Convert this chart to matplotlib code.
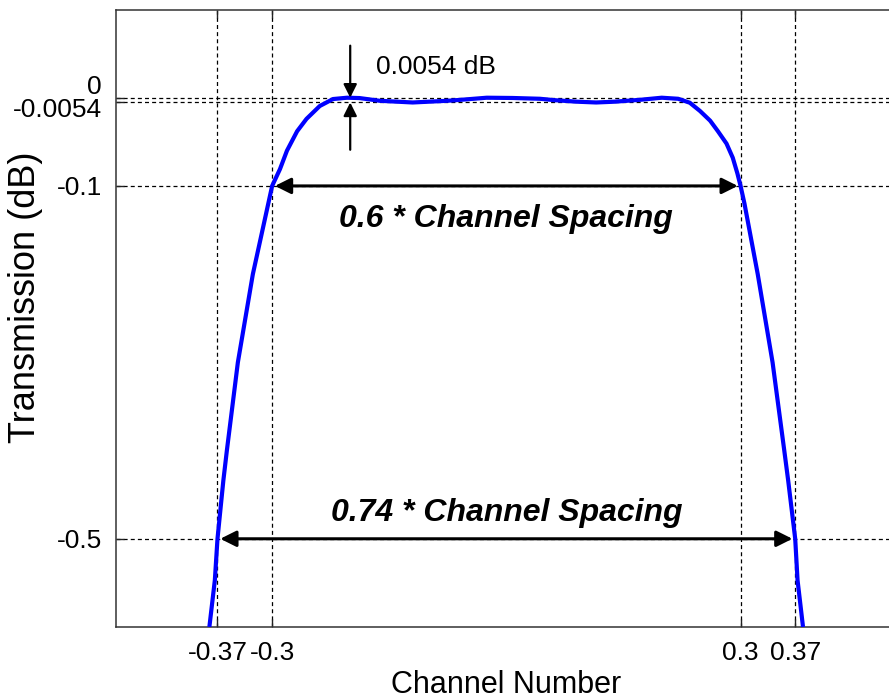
import matplotlib
matplotlib.use("Agg")
import matplotlib.pyplot as plt
from matplotlib.transforms import ScaledTranslation

plt.rcParams["font.family"] = ["Liberation Sans", "DejaVu Sans"]
plt.rcParams["axes.unicode_minus"] = False

# passband response, transmission in dB vs channel number
chan = [-0.3804, -0.3734, -0.370, -0.3625, -0.358, -0.3439, -0.3247,
        -0.300, -0.290, -0.281, -0.268, -0.256, -0.239, -0.222, -0.204,
        -0.188, -0.162, -0.120, -0.076, -0.060, -0.025, 0.008, 0.043,
        0.062, 0.090, 0.115, 0.139, 0.171, 0.199, 0.220, 0.235, 0.248,
        0.261, 0.271, 0.282, 0.290, 0.296, 0.300, 0.305, 0.322, 0.341,
        0.356, 0.361, 0.370, 0.373, 0.380]
trans_db = [-0.600, -0.547, -0.500, -0.434, -0.400, -0.300, -0.200,
            -0.100, -0.081, -0.060, -0.038, -0.024, -0.0094, -0.0015, 0.0,
            -0.0004, -0.0035, -0.0054, -0.0035, -0.0025, 0.0, -0.0003, -0.0012,
            -0.0028, -0.0045, -0.0054, -0.0045, -0.0024, 0.0, -0.0012, -0.0057, -0.015,
            -0.026, -0.038, -0.052, -0.068, -0.086, -0.100, -0.120, -0.200, -0.300,
            -0.400, -0.434, -0.500, -0.547, -0.600]

xticks = [-0.37, -0.3, 0.3, 0.37]
xticklabels = ["-0.37", "-0.3", "0.3", "0.37"]
yticks = [-0.5, -0.1, -0.0054, 0]
yticklabels = ["-0.5", "-0.1", "-0.0054", "0"]

ripple = 0.0054
bw_01db = 0.3     # half width at -0.1 dB
bw_05db = 0.37    # half width at -0.5 dB

fig = plt.figure(figsize=(8.89, 6.99), dpi=100)
ax = fig.add_axes([116 / 889, 1 - 627 / 699, 780.7 / 889, (627 - 9.5) / 699])

ax.plot(chan, trans_db, color="#0000ff", lw=3, solid_capstyle="butt", zorder=3)

ax.set_xlim(-0.5, 0.5)
ax.set_ylim(-0.6, 0.1)
ax.set_xticks(xticks)
ax.set_xticklabels(xticklabels)
ax.set_yticks(yticks)
ax.set_yticklabels(yticklabels)
ax.tick_params(direction="in", length=6, width=1, top=True, right=True,
               labelsize=19, pad=10, color="#222222")
ax.grid(True, color="black", lw=0.9, linestyle=(0, (3.2, 2.5)))
for s in ax.spines.values():
    s.set_linewidth(1.1)
    s.set_color("#333333")

# nudge the two crowded labels near 0 dB apart
ylabs = ax.get_yticklabels()
ylabs[3].set_transform(ylabs[3].get_transform() + ScaledTranslation(0, 13 / 100, fig.dpi_scale_trans))
ylabs[2].set_transform(ylabs[2].get_transform() + ScaledTranslation(0, -5.5 / 100, fig.dpi_scale_trans))

ax.set_xlabel("Channel Number", fontsize=22, va="baseline")
ax.xaxis.set_label_coords(0.5, -0.107)
ax.set_ylabel("Transmission (dB)", fontsize=26, va="center")
ax.yaxis.set_label_coords(-0.116, 0.534)

# bandwidth arrows
arr = dict(arrowstyle="<|-|>", color="black", lw=2.2, mutation_scale=24,
           shrinkA=2, shrinkB=2)
ax.annotate("", xy=(-bw_01db, -0.1), xytext=(bw_01db, -0.1), arrowprops=arr)
ax.annotate("", xy=(-bw_05db, -0.5), xytext=(bw_05db, -0.5), arrowprops=arr)
ax.text(0, -0.146, "0.6 * Channel Spacing", fontsize=23, fontweight="bold",
        fontstyle="italic", ha="center", va="baseline")
ax.text(0, -0.48, "0.74 * Channel Spacing", fontsize=23, fontweight="bold",
        fontstyle="italic", ha="center", va="baseline")

# ripple marker
single = dict(arrowstyle="-|>", color="black", lw=1.6, mutation_scale=20,
              shrinkA=0, shrinkB=0)
ax.annotate("", xy=(-0.2, 0), xytext=(-0.2, 0.059), arrowprops=single)
ax.annotate("", xy=(-0.2, -ripple), xytext=(-0.2, -0.059), arrowprops=single)
ax.text(-0.167, 0.0265, "0.0054 dB", fontsize=19, ha="left", va="baseline")

fig.savefig("out.png", dpi=100)
